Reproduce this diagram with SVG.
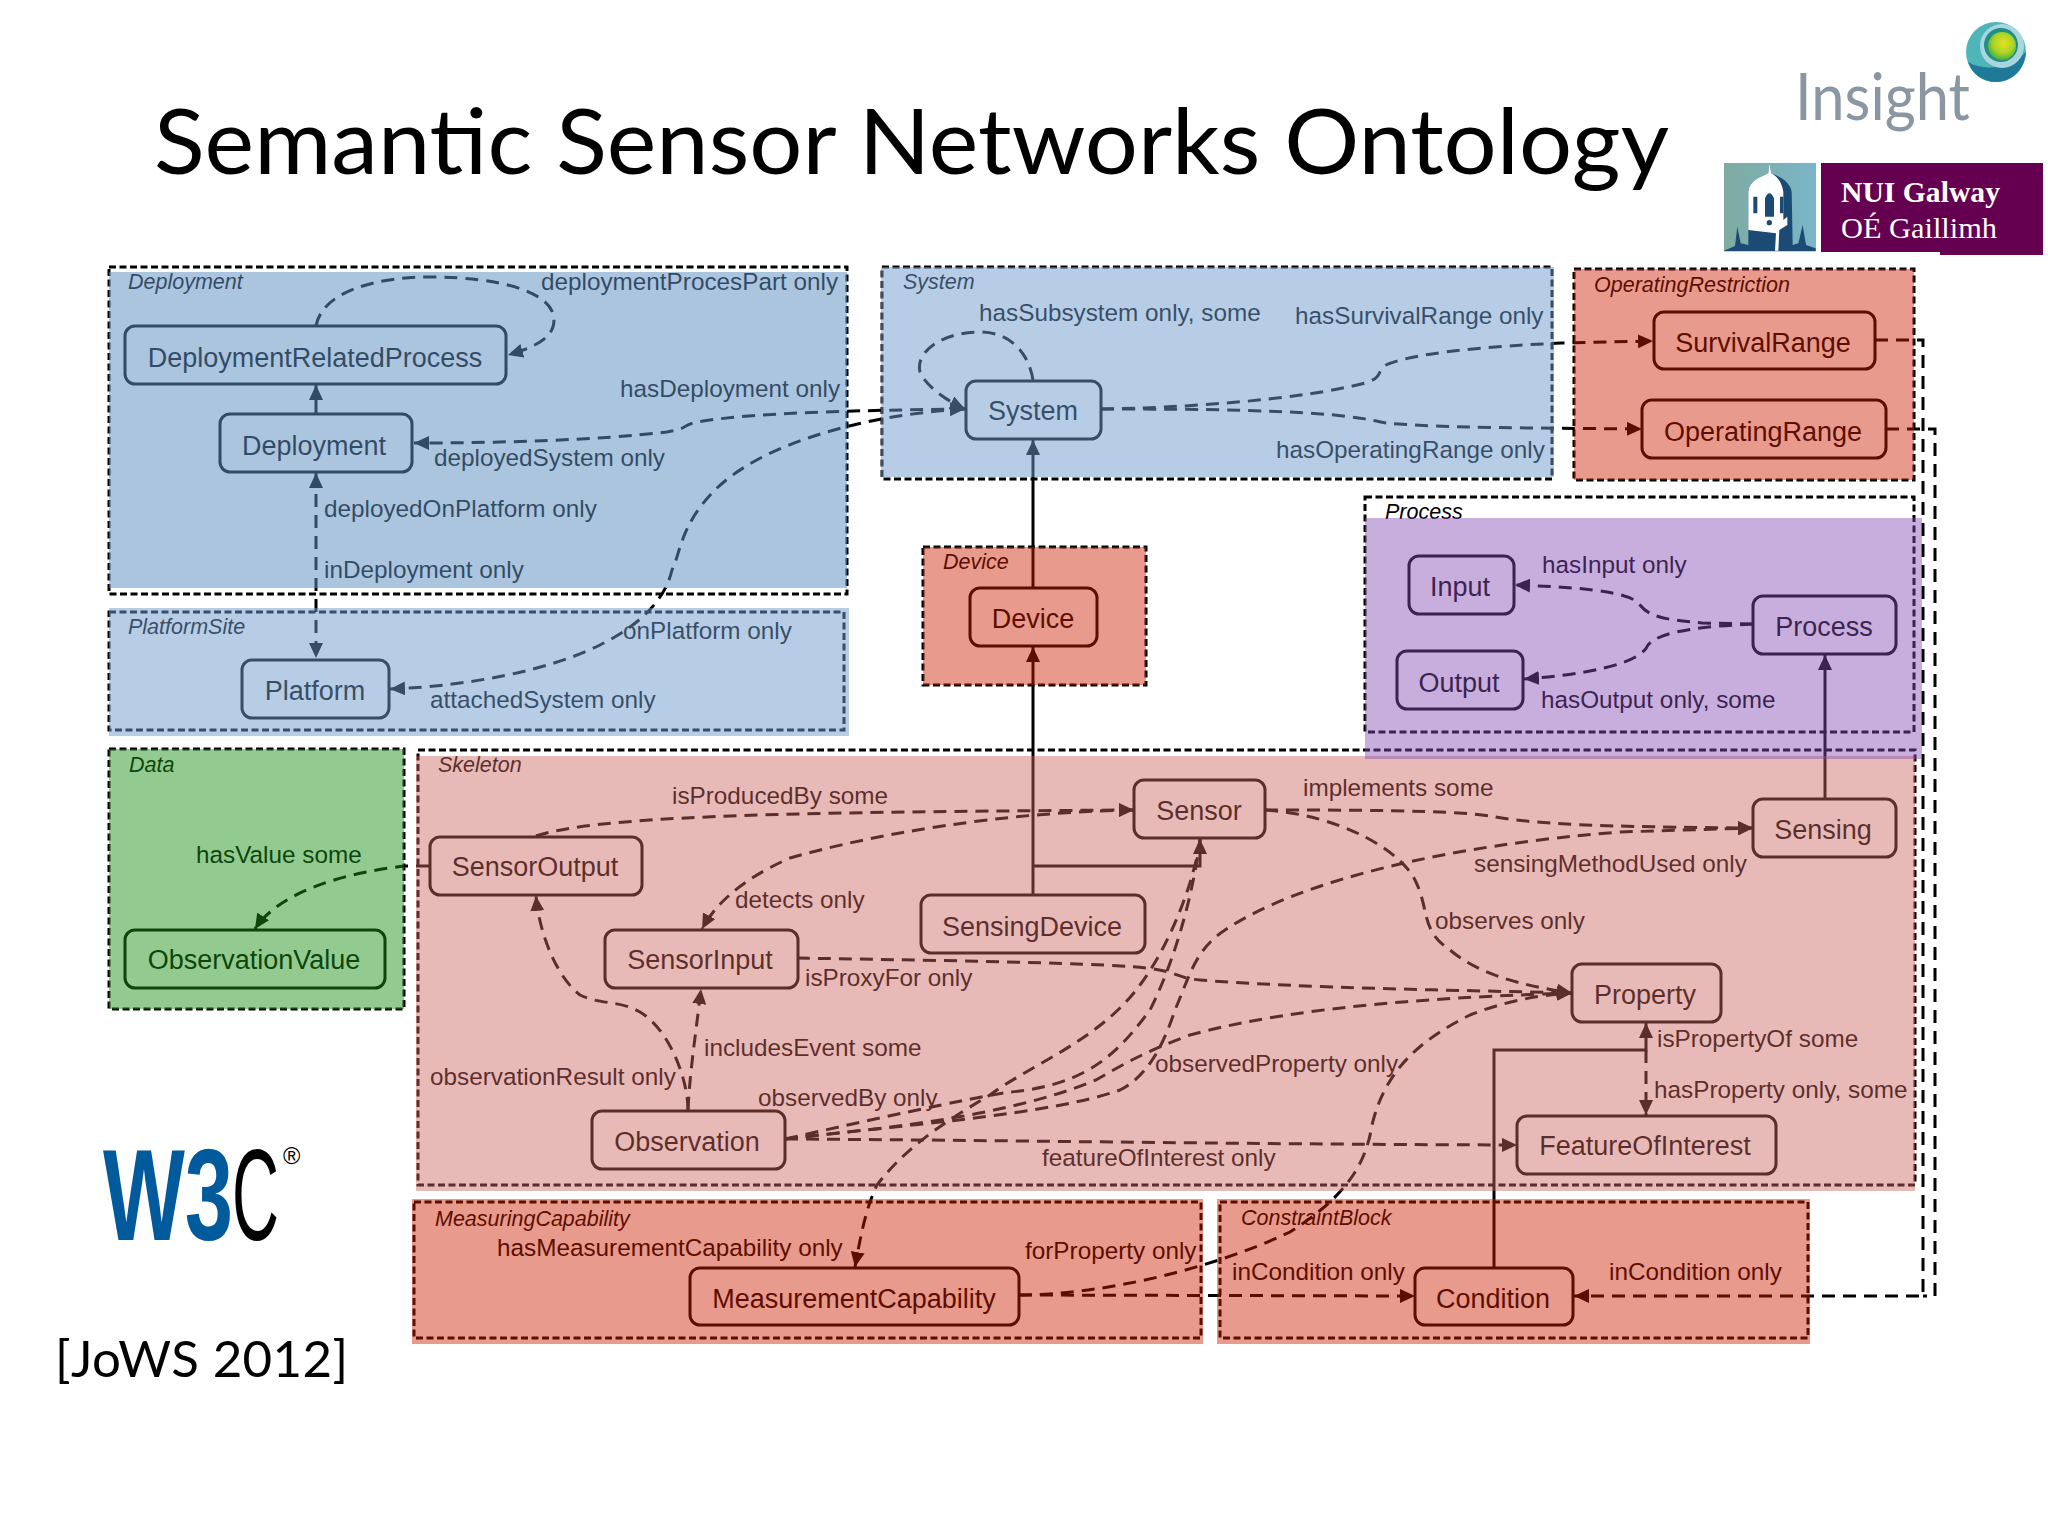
<svg xmlns="http://www.w3.org/2000/svg" width="2048" height="1536" viewBox="0 0 2048 1536">
<style>
text{font-family:"Liberation Sans",Arial,sans-serif;fill:#000}
.n{font-size:27px;text-anchor:middle}
.l{font-size:24.3px}
.g{font-size:21.5px;font-style:italic}
.box{fill:none;stroke:#000;stroke-width:3}
.fr{fill:none;stroke:#000;stroke-width:3;stroke-dasharray:7 3.5}
.d{fill:none;stroke:#000;stroke-width:3;stroke-dasharray:13 8;marker-end:url(#a)}
.x{fill:none;stroke:#000;stroke-width:3;stroke-dasharray:13 8}
.b{marker-start:url(#a)}
.s{fill:none;stroke:#000;stroke-width:3;marker-end:url(#a)}
.ov-blue1{fill:rgb(96,144,192);fill-opacity:.52}
.ov-blue2{fill:rgb(110,156,204);fill-opacity:.5}
.ov-red{fill:rgb(204,31,0);fill-opacity:.45}
.ov-skel{fill:rgb(204,102,96);fill-opacity:.45}
.ov-green{fill:rgb(28,144,22);fill-opacity:.48}
.ov-purple{fill:rgb(133,76,178);fill-opacity:.45}
.title,.cal{font-family:Lato,"Open Sans",sans-serif}
</style>
<defs>
<marker id="a" markerUnits="userSpaceOnUse" markerWidth="16" markerHeight="14" refX="15" refY="7" orient="auto-start-reverse"><path d="M0,0 L15,7 L0,14 Z" fill="#000"/></marker>
<radialGradient id="gl" cx=".55" cy=".4" r=".6"><stop offset="0" stop-color="#e8e020"/><stop offset=".6" stop-color="#a8d428"/><stop offset="1" stop-color="#4fae40"/></radialGradient>
<linearGradient id="tw"><stop offset="0" stop-color="#7faba0"/><stop offset="1" stop-color="#7ab5c9"/></linearGradient>
</defs>
<rect width="2048" height="1536" fill="#fff"/>
<text class="title" x="154" y="174" font-size="92" textLength="1515" lengthAdjust="spacingAndGlyphs">Semantic Sensor Networks Ontology</text>

<g id="logo-insight">
<text class="cal" x="1795" y="120" font-size="65" style="fill:#8a97a3" textLength="175" lengthAdjust="spacingAndGlyphs">Insight</text>
<circle cx="1996" cy="52" r="30" fill="#4fb5b8"/>
<path d="M1968,62 C1985,72 2010,68 2026,52 C2024,72 2010,82 1996,82 C1982,82 1972,74 1968,62 Z" fill="#1f7a9a"/>
<circle cx="2002" cy="46" r="22" fill="#a9d6de"/>
<circle cx="2001" cy="45" r="17" fill="#1f8f8a"/>
<circle cx="2002" cy="46" r="14" fill="url(#gl)"/>
</g>
<g id="logo-nui">
<rect x="1724" y="163" width="92" height="88" fill="url(#tw)"/>
<g transform="translate(1700,0) scale(.3333)">
<path d="M72,752 L105,738 L112,680 L122,730 L145,735 L145,575 C150,540 185,530 205,520 L208,490 L214,520 C240,530 270,545 275,575 L278,735 L295,730 L308,675 L318,735 L347,745 L347,754 L72,754 Z" fill="#1b4a75"/>
<path d="M145,575 C150,540 185,530 205,520 L208,490 L214,520 C232,530 245,545 250,575 L250,660 L262,650 L262,675 L238,690 L235,752 L225,752 L228,700 L145,690 Z" fill="#fff"/>
<path d="M195,650 L195,595 Q208,565 222,595 L222,650 Z M160,640 L160,590 L172,590 L172,640 Z M240,640 L240,590 L250,590 L250,640 Z" fill="#1b4a75"/>
<circle cx="208" cy="668" r="8" fill="#1b4a75"/>
</g>
<path d="M1821,163 H2043 V255 H1940 V252 H1821 Z" fill="#650050"/>
<text x="1841" y="202" font-size="29" font-weight="700" style="font-family:'Liberation Serif',serif;fill:#fff" textLength="159" lengthAdjust="spacingAndGlyphs">NUI Galway</text>
<text x="1841" y="238" font-size="29" style="font-family:'Liberation Serif',serif;fill:#fff" textLength="156" lengthAdjust="spacingAndGlyphs">OÉ Gaillimh</text>
</g>
<g id="logo-w3c">
<text transform="translate(103,1240) scale(.667,1)" font-size="130" font-weight="700" style="fill:#005a9c">W3</text>
<text transform="translate(232,1240) scale(.5,1)" font-size="130">C</text>
<text x="283" y="1164" font-size="23.5">®</text>
</g>
<text class="cal" x="55" y="1377" font-size="51" textLength="293" lengthAdjust="spacing">[JoWS 2012]</text>

<g id="frames">
<rect class="fr" x="109" y="267" width="738" height="327"/>
<rect class="fr" x="109" y="612" width="735" height="118"/>
<rect class="fr" x="882" y="267" width="670" height="212"/>
<rect class="fr" x="1574" y="269" width="340" height="211"/>
<rect class="fr" x="923" y="547" width="223" height="138"/>
<rect class="fr" x="1365" y="497" width="549" height="235"/>
<rect class="fr" x="109" y="749" width="295" height="260"/>
<rect class="fr" x="418" y="750" width="1497" height="435"/>
<rect class="fr" x="414" y="1202" width="787" height="136"/>
<rect class="fr" x="1220" y="1202" width="588" height="136"/>
<text class="g" x="128" y="289">Deployment</text>
<text class="g" x="128" y="634">PlatformSite</text>
<text class="g" x="903" y="289">System</text>
<text class="g" x="1594" y="292">OperatingRestriction</text>
<text class="g" x="943" y="569">Device</text>
<text class="g" x="1385" y="519">Process</text>
<text class="g" x="129" y="772">Data</text>
<text class="g" x="438" y="772">Skeleton</text>
<text class="g" x="435" y="1226">MeasuringCapability</text>
<text class="g" x="1241" y="1225">ConstraintBlock</text>
</g>

<g id="connectors">
<path class="d" d="M316,326 C322,292 375,277 430,277 C500,277 554,292 554,320 C554,338 535,347 508,355"/>
<path class="s" d="M316,413 L316,385"/>
<path class="d b" d="M965,409 C900,410 760,411 697,422 C680,426 690,428 667,432 C600,440 500,443 414,443"/>
<path class="d" d="M965,409 C860,415 760,445 715,490 C680,525 680,555 672,570 C665,600 640,625 600,645 C550,670 470,686 390,689"/>
<path class="d b" d="M316,473 L316,658"/>
<path class="d" d="M1033,380 C1028,350 1008,332 980,332 C945,332 915,350 920,372 C925,385 945,400 965,409"/>
<path class="d" d="M1101,409 C1180,408 1300,400 1365,383 C1385,377 1375,372 1386,365 C1420,350 1520,345 1561,343 L1653,341"/>
<path class="d" d="M1101,409 C1200,409 1300,410 1351,417 C1375,420 1370,420 1386,423 C1440,428 1540,428 1642,429"/>
<path class="d" d="M1875,340 L1923,340 L1923,1296 L1574,1296"/>
<path class="x" d="M1886,429 L1935,429 L1935,1296 L1923,1296"/>
<path class="d" d="M1753,624 L1702,623 C1670,620 1650,618 1640,605 C1630,590 1570,587 1515,585"/>
<path class="d" d="M1753,624 C1710,626 1660,630 1648,645 C1640,665 1580,675 1524,679"/>
<path class="s" d="M1825,798 L1825,655"/>
<path class="s" d="M1033,894 L1033,647"/>
<path class="s" d="M1033,587 L1033,440"/>
<path class="s" d="M1033,866 L1200,866 L1200,839"/>
<path class="d" d="M536,836 C600,815 800,812 1134,810"/>
<path class="d" d="M1134,810 C1000,812 870,835 790,858 C740,880 715,905 702,929"/>
<path class="d" d="M429,866 L405,866 C350,872 280,890 255,929"/>
<path class="d" d="M797,958 C900,960 1090,962 1147,968 C1180,972 1175,978 1200,980 C1300,988 1450,990 1572,993"/>
<path class="d" d="M688,1110 C690,1070 695,1040 701,989"/>
<path class="d" d="M688,1110 C688,1080 670,1030 640,1012 C620,1000 600,1005 580,995 C560,980 540,940 536,896"/>
<path class="d" d="M785,1139 C1000,1140 1200,1144 1517,1145"/>
<path class="d" d="M1200,839 C1195,880 1170,945 1140,985 C1100,1040 1030,1065 990,1095 C930,1130 900,1155 877,1185 C865,1210 860,1240 855,1267"/>
<path class="x" d="M785,1139 C870,1120 960,1100 1010,1092 C1090,1085 1120,1050 1150,1010 C1180,950 1195,880 1200,840"/>
<path class="d" d="M785,1139 C860,1130 1000,1120 1096,1080 C1130,1060 1150,1050 1190,1035 C1300,1005 1450,997 1572,993"/>
<path class="d" d="M785,1139 C900,1125 1050,1115 1120,1090 C1150,1075 1165,1040 1175,1010 C1190,975 1195,950 1225,930 C1300,880 1450,845 1620,832 L1753,828"/>
<path class="d" d="M1265,810 C1350,810 1450,810 1490,816 C1530,824 1600,827 1753,828"/>
<path class="d" d="M1265,810 C1340,815 1400,850 1415,880 C1430,910 1420,930 1450,950 C1480,975 1520,985 1572,993"/>
<path class="d" d="M1019,1295 C1100,1295 1210,1270 1290,1232 C1340,1200 1365,1170 1372,1125 C1385,1070 1420,1040 1470,1015 C1500,1003 1535,995 1572,993"/>
<path class="d" d="M1019,1295 L1415,1296"/>
<path class="s" d="M1494,1267 L1494,1050 L1646,1050 L1646,1023"/>
<path class="d" d="M1646,1050 L1646,1115"/>
</g>

<g id="edge-labels" class="l">
<text class="l" x="541" y="290">deploymentProcesPart only</text>
<text class="l" x="620" y="397">hasDeployment only</text>
<text class="l" x="434" y="466">deployedSystem only</text>
<text class="l" x="324" y="517">deployedOnPlatform only</text>
<text class="l" x="324" y="578">inDeployment only</text>
<text class="l" x="623" y="639">onPlatform only</text>
<text class="l" x="430" y="708">attachedSystem only</text>
<text class="l" x="979" y="321">hasSubsystem only, some</text>
<text class="l" x="1295" y="324">hasSurvivalRange only</text>
<text class="l" x="1276" y="458">hasOperatingRange only</text>
<text class="l" x="1542" y="573">hasInput only</text>
<text class="l" x="1541" y="708">hasOutput only, some</text>
<text class="l" x="672" y="804">isProducedBy some</text>
<text class="l" x="196" y="863">hasValue some</text>
<text class="l" x="735" y="908">detects only</text>
<text class="l" x="805" y="986">isProxyFor only</text>
<text class="l" x="704" y="1056">includesEvent some</text>
<text class="l" x="430" y="1085">observationResult only</text>
<text class="l" x="758" y="1106">observedBy only</text>
<text class="l" x="497" y="1256">hasMeasurementCapability only</text>
<text class="l" x="1025" y="1259">forProperty only</text>
<text class="l" x="1303" y="796">implements some</text>
<text class="l" x="1474" y="872">sensingMethodUsed only</text>
<text class="l" x="1435" y="929">observes only</text>
<text class="l" x="1657" y="1047">isPropertyOf some</text>
<text class="l" x="1654" y="1098">hasProperty only, some</text>
<text class="l" x="1155" y="1072">observedProperty only</text>
<text class="l" x="1042" y="1166">featureOfInterest only</text>
<text class="l" x="1232" y="1280">inCondition only</text>
<text class="l" x="1609" y="1280">inCondition only</text>
</g>

<g id="DeploymentRelatedProcess"><rect class="box" x="125" y="326" width="381" height="58" rx="10"/><text class="n" x="315" y="367">DeploymentRelatedProcess</text></g>
<g id="Deployment"><rect class="box" x="220" y="414" width="192" height="58" rx="10"/><text class="n" x="314" y="455">Deployment</text></g>
<g id="Platform"><rect class="box" x="242" y="660" width="147" height="58" rx="10"/><text class="n" x="315" y="700">Platform</text></g>
<g id="System"><rect class="box" x="966" y="381" width="135" height="58" rx="10"/><text class="n" x="1033" y="420">System</text></g>
<g id="SurvivalRange"><rect class="box" x="1654" y="312" width="221" height="57" rx="10"/><text class="n" x="1763" y="352">SurvivalRange</text></g>
<g id="OperatingRange"><rect class="box" x="1642" y="400" width="244" height="58" rx="10"/><text class="n" x="1763" y="441">OperatingRange</text></g>
<g id="Device"><rect class="box" x="970" y="588" width="127" height="58" rx="10"/><text class="n" x="1033" y="628">Device</text></g>
<g id="Input"><rect class="box" x="1409" y="556" width="105" height="58" rx="10"/><text class="n" x="1460" y="596">Input</text></g>
<g id="Output"><rect class="box" x="1397" y="651" width="126" height="58" rx="10"/><text class="n" x="1459" y="692">Output</text></g>
<g id="Process"><rect class="box" x="1753" y="596" width="143" height="58" rx="10"/><text class="n" x="1824" y="636">Process</text></g>
<g id="SensorOutput"><rect class="box" x="430" y="837" width="212" height="58" rx="10"/><text class="n" x="535" y="876">SensorOutput</text></g>
<g id="ObservationValue"><rect class="box" x="125" y="930" width="260" height="58" rx="10"/><text class="n" x="254" y="969">ObservationValue</text></g>
<g id="SensorInput"><rect class="box" x="605" y="930" width="193" height="58" rx="10"/><text class="n" x="700" y="969">SensorInput</text></g>
<g id="SensingDevice"><rect class="box" x="921" y="895" width="224" height="58" rx="10"/><text class="n" x="1032" y="936">SensingDevice</text></g>
<g id="Observation"><rect class="box" x="592" y="1111" width="193" height="58" rx="10"/><text class="n" x="687" y="1151">Observation</text></g>
<g id="MeasurementCapability"><rect class="box" x="690" y="1268" width="329" height="57" rx="10"/><text class="n" x="854" y="1308">MeasurementCapability</text></g>
<g id="Sensor"><rect class="box" x="1134" y="780" width="131" height="58" rx="10"/><text class="n" x="1199" y="820">Sensor</text></g>
<g id="Sensing"><rect class="box" x="1753" y="799" width="143" height="58" rx="10"/><text class="n" x="1823" y="839">Sensing</text></g>
<g id="Property"><rect class="box" x="1572" y="964" width="149" height="58" rx="10"/><text class="n" x="1645" y="1004">Property</text></g>
<g id="FeatureOfInterest"><rect class="box" x="1517" y="1116" width="259" height="58" rx="10"/><text class="n" x="1645" y="1155">FeatureOfInterest</text></g>
<g id="Condition"><rect class="box" x="1415" y="1268" width="158" height="57" rx="10"/><text class="n" x="1493" y="1308">Condition</text></g>

<g id="overlays">
<rect class="ov-blue1" x="109" y="272" width="738" height="316"/>
<rect class="ov-blue2" x="109" y="608" width="740" height="128"/>
<rect class="ov-blue2" x="881" y="267" width="673" height="210"/>
<rect class="ov-red" x="1574" y="269" width="340" height="211"/>
<rect class="ov-red" x="923" y="547" width="223" height="138"/>
<rect class="ov-green" x="109" y="749" width="295" height="260"/>
<rect class="ov-skel" x="416" y="756" width="1499" height="435"/>
<rect class="ov-purple" x="1365" y="518" width="557" height="241"/>
<rect class="ov-red" x="412" y="1199" width="791" height="145"/>
<rect class="ov-red" x="1217" y="1199" width="593" height="145"/>
</g>
</svg>
